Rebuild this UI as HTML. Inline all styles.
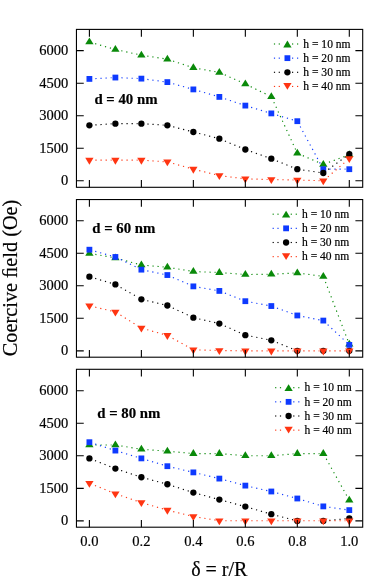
<!DOCTYPE html>
<html><head><meta charset="utf-8"><title>Coercive field</title>
<style>
html,body{margin:0;padding:0;background:#fff;}
body{width:382px;height:586px;position:relative;overflow:hidden;font-family:"Liberation Serif",serif;}
svg text{font-family:"Liberation Serif",serif;fill:#000;stroke:#000;stroke-width:0.2px;}
</style></head><body>
<svg width="382" height="586" viewBox="0 0 382 586" style="position:absolute;left:0;top:0;will-change:transform;opacity:0.999">
<line x1="95.16" y1="43.67" x2="111.74" y2="48.46" stroke="#0a8a0a" stroke-width="1.15" stroke-dasharray="1.2 3.9"/>
<line x1="121.25" y1="50.78" x2="137.67" y2="54.35" stroke="#0a8a0a" stroke-width="1.15" stroke-dasharray="1.2 3.9"/>
<line x1="147.31" y1="56.08" x2="163.61" y2="58.60" stroke="#0a8a0a" stroke-width="1.15" stroke-dasharray="1.2 3.9"/>
<line x1="173.07" y1="61.07" x2="189.75" y2="66.60" stroke="#0a8a0a" stroke-width="1.15" stroke-dasharray="1.2 3.9"/>
<line x1="199.27" y1="68.84" x2="215.61" y2="71.74" stroke="#0a8a0a" stroke-width="1.15" stroke-dasharray="1.2 3.9"/>
<line x1="224.83" y1="74.85" x2="241.87" y2="82.46" stroke="#0a8a0a" stroke-width="1.15" stroke-dasharray="1.2 3.9"/>
<line x1="250.73" y1="86.64" x2="267.92" y2="95.04" stroke="#0a8a0a" stroke-width="1.15" stroke-dasharray="1.2 3.9"/>
<line x1="273.83" y1="102.16" x2="295.73" y2="149.84" stroke="#0a8a0a" stroke-width="1.15" stroke-dasharray="1.2 3.9"/>
<line x1="302.84" y1="155.65" x2="319.82" y2="162.91" stroke="#0a8a0a" stroke-width="1.15" stroke-dasharray="1.2 3.9"/>
<line x1="328.93" y1="162.31" x2="345.74" y2="156.05" stroke="#0a8a0a" stroke-width="1.15" stroke-dasharray="1.2 3.9"/>
<path d="M85.25 44.31L93.55 44.31L89.40 37.51Z" fill="#0a8a0a"/>
<path d="M111.24 51.81L119.54 51.81L115.39 45.01Z" fill="#0a8a0a"/>
<path d="M137.23 57.46L145.53 57.46L141.38 50.66Z" fill="#0a8a0a"/>
<path d="M163.22 61.48L171.52 61.48L167.37 54.68Z" fill="#0a8a0a"/>
<path d="M189.21 70.09L197.51 70.09L193.36 63.29Z" fill="#0a8a0a"/>
<path d="M215.20 74.70L223.50 74.70L219.35 67.90Z" fill="#0a8a0a"/>
<path d="M241.19 86.31L249.49 86.31L245.34 79.51Z" fill="#0a8a0a"/>
<path d="M267.18 99.00L275.48 99.00L271.33 92.20Z" fill="#0a8a0a"/>
<path d="M293.17 155.59L301.47 155.59L297.32 148.79Z" fill="#0a8a0a"/>
<path d="M319.16 166.70L327.46 166.70L323.31 159.90Z" fill="#0a8a0a"/>
<path d="M345.15 157.03L353.45 157.03L349.30 150.23Z" fill="#0a8a0a"/>
<line x1="95.39" y1="78.59" x2="111.60" y2="77.74" stroke="#0e3aff" stroke-width="1.15" stroke-dasharray="1.2 3.9"/>
<line x1="121.38" y1="77.79" x2="137.58" y2="78.47" stroke="#0e3aff" stroke-width="1.15" stroke-dasharray="1.2 3.9"/>
<line x1="147.33" y1="79.42" x2="163.60" y2="81.60" stroke="#0e3aff" stroke-width="1.15" stroke-dasharray="1.2 3.9"/>
<line x1="173.15" y1="83.73" x2="189.70" y2="88.38" stroke="#0e3aff" stroke-width="1.15" stroke-dasharray="1.2 3.9"/>
<line x1="199.12" y1="91.07" x2="215.70" y2="95.86" stroke="#0e3aff" stroke-width="1.15" stroke-dasharray="1.2 3.9"/>
<line x1="225.04" y1="98.81" x2="241.74" y2="104.40" stroke="#0e3aff" stroke-width="1.15" stroke-dasharray="1.2 3.9"/>
<line x1="251.09" y1="107.33" x2="267.69" y2="112.32" stroke="#0e3aff" stroke-width="1.15" stroke-dasharray="1.2 3.9"/>
<line x1="277.08" y1="115.13" x2="293.68" y2="120.10" stroke="#0e3aff" stroke-width="1.15" stroke-dasharray="1.2 3.9"/>
<line x1="300.18" y1="126.47" x2="321.50" y2="165.85" stroke="#0e3aff" stroke-width="1.15" stroke-dasharray="1.2 3.9"/>
<line x1="329.31" y1="169.19" x2="345.50" y2="169.19" stroke="#0e3aff" stroke-width="1.15" stroke-dasharray="1.2 3.9"/>
<rect x="86.50" y="76.01" width="5.8" height="5.8" fill="#0e3aff"/>
<rect x="112.49" y="74.64" width="5.8" height="5.8" fill="#0e3aff"/>
<rect x="138.48" y="75.73" width="5.8" height="5.8" fill="#0e3aff"/>
<rect x="164.47" y="79.20" width="5.8" height="5.8" fill="#0e3aff"/>
<rect x="190.46" y="86.51" width="5.8" height="5.8" fill="#0e3aff"/>
<rect x="216.45" y="94.01" width="5.8" height="5.8" fill="#0e3aff"/>
<rect x="242.44" y="102.70" width="5.8" height="5.8" fill="#0e3aff"/>
<rect x="268.43" y="110.51" width="5.8" height="5.8" fill="#0e3aff"/>
<rect x="294.42" y="118.29" width="5.8" height="5.8" fill="#0e3aff"/>
<rect x="320.41" y="166.29" width="5.8" height="5.8" fill="#0e3aff"/>
<rect x="346.40" y="166.29" width="5.8" height="5.8" fill="#0e3aff"/>
<line x1="95.39" y1="124.91" x2="111.60" y2="123.87" stroke="#000000" stroke-width="1.15" stroke-dasharray="1.2 3.9"/>
<line x1="121.39" y1="123.63" x2="137.58" y2="123.63" stroke="#000000" stroke-width="1.15" stroke-dasharray="1.2 3.9"/>
<line x1="147.37" y1="124.01" x2="163.58" y2="125.06" stroke="#000000" stroke-width="1.15" stroke-dasharray="1.2 3.9"/>
<line x1="173.18" y1="126.80" x2="189.68" y2="131.05" stroke="#000000" stroke-width="1.15" stroke-dasharray="1.2 3.9"/>
<line x1="199.17" y1="133.49" x2="215.67" y2="137.74" stroke="#000000" stroke-width="1.15" stroke-dasharray="1.2 3.9"/>
<line x1="224.89" y1="140.99" x2="241.83" y2="148.04" stroke="#000000" stroke-width="1.15" stroke-dasharray="1.2 3.9"/>
<line x1="251.00" y1="151.50" x2="267.75" y2="157.42" stroke="#000000" stroke-width="1.15" stroke-dasharray="1.2 3.9"/>
<line x1="276.89" y1="160.94" x2="293.80" y2="167.77" stroke="#000000" stroke-width="1.15" stroke-dasharray="1.2 3.9"/>
<line x1="303.26" y1="170.06" x2="319.55" y2="172.45" stroke="#000000" stroke-width="1.15" stroke-dasharray="1.2 3.9"/>
<line x1="328.16" y1="169.47" x2="346.23" y2="156.34" stroke="#000000" stroke-width="1.15" stroke-dasharray="1.2 3.9"/>
<circle cx="89.40" cy="125.30" r="3.15" fill="#000000"/>
<circle cx="115.39" cy="123.63" r="3.15" fill="#000000"/>
<circle cx="141.38" cy="123.63" r="3.15" fill="#000000"/>
<circle cx="167.37" cy="125.30" r="3.15" fill="#000000"/>
<circle cx="193.36" cy="132.00" r="3.15" fill="#000000"/>
<circle cx="219.35" cy="138.69" r="3.15" fill="#000000"/>
<circle cx="245.34" cy="149.50" r="3.15" fill="#000000"/>
<circle cx="271.33" cy="158.69" r="3.15" fill="#000000"/>
<circle cx="297.32" cy="169.19" r="3.15" fill="#000000"/>
<circle cx="323.31" cy="173.00" r="3.15" fill="#000000"/>
<circle cx="349.30" cy="154.10" r="3.15" fill="#000000"/>
<line x1="95.40" y1="160.13" x2="111.59" y2="160.13" stroke="#ff3512" stroke-width="1.15" stroke-dasharray="1.2 3.9"/>
<line x1="121.39" y1="160.13" x2="137.58" y2="160.13" stroke="#ff3512" stroke-width="1.15" stroke-dasharray="1.2 3.9"/>
<line x1="147.37" y1="160.54" x2="163.58" y2="161.62" stroke="#ff3512" stroke-width="1.15" stroke-dasharray="1.2 3.9"/>
<line x1="173.15" y1="163.49" x2="189.70" y2="168.13" stroke="#ff3512" stroke-width="1.15" stroke-dasharray="1.2 3.9"/>
<line x1="199.19" y1="170.59" x2="215.66" y2="174.66" stroke="#ff3512" stroke-width="1.15" stroke-dasharray="1.2 3.9"/>
<line x1="225.30" y1="176.32" x2="241.57" y2="178.38" stroke="#ff3512" stroke-width="1.15" stroke-dasharray="1.2 3.9"/>
<line x1="251.34" y1="179.02" x2="267.53" y2="179.48" stroke="#ff3512" stroke-width="1.15" stroke-dasharray="1.2 3.9"/>
<line x1="277.33" y1="179.69" x2="293.52" y2="179.96" stroke="#ff3512" stroke-width="1.15" stroke-dasharray="1.2 3.9"/>
<line x1="303.32" y1="180.20" x2="319.51" y2="180.68" stroke="#ff3512" stroke-width="1.15" stroke-dasharray="1.2 3.9"/>
<line x1="327.87" y1="176.88" x2="346.42" y2="160.98" stroke="#ff3512" stroke-width="1.15" stroke-dasharray="1.2 3.9"/>
<path d="M85.25 157.83L93.55 157.83L89.40 164.63Z" fill="#ff3512"/>
<path d="M111.24 157.83L119.54 157.83L115.39 164.63Z" fill="#ff3512"/>
<path d="M137.23 157.83L145.53 157.83L141.38 164.63Z" fill="#ff3512"/>
<path d="M163.22 159.57L171.52 159.57L167.37 166.37Z" fill="#ff3512"/>
<path d="M189.21 166.86L197.51 166.86L193.36 173.66Z" fill="#ff3512"/>
<path d="M215.20 173.27L223.50 173.27L219.35 180.07Z" fill="#ff3512"/>
<path d="M241.19 176.55L249.49 176.55L245.34 183.35Z" fill="#ff3512"/>
<path d="M267.18 177.29L275.48 177.29L271.33 184.09Z" fill="#ff3512"/>
<path d="M293.17 177.73L301.47 177.73L297.32 184.53Z" fill="#ff3512"/>
<path d="M319.16 178.49L327.46 178.49L323.31 185.29Z" fill="#ff3512"/>
<path d="M345.15 156.20L353.45 156.20L349.30 163.00Z" fill="#ff3512"/>
<rect x="76.45" y="29.4" width="286.25" height="157.90" fill="none" stroke="#000" stroke-width="1.1"/>
<path d="M76.45 180.80h7.3M362.7 180.80h-7.3" stroke="#000" stroke-width="1.1"/>
<text x="68.3" y="185.30" text-anchor="end" font-size="14.5">0</text>
<path d="M76.45 148.26h7.3M362.7 148.26h-7.3" stroke="#000" stroke-width="1.1"/>
<text x="68.3" y="152.76" text-anchor="end" font-size="14.5">1500</text>
<path d="M76.45 115.72h7.3M362.7 115.72h-7.3" stroke="#000" stroke-width="1.1"/>
<text x="68.3" y="120.22" text-anchor="end" font-size="14.5">3000</text>
<path d="M76.45 83.19h7.3M362.7 83.19h-7.3" stroke="#000" stroke-width="1.1"/>
<text x="68.3" y="87.69" text-anchor="end" font-size="14.5">4500</text>
<path d="M76.45 50.65h7.3M362.7 50.65h-7.3" stroke="#000" stroke-width="1.1"/>
<text x="68.3" y="55.15" text-anchor="end" font-size="14.5">6000</text>
<path d="M89.40 29.4v7.3M89.40 187.3v-7.3" stroke="#000" stroke-width="1.1"/>
<path d="M141.38 29.4v7.3M141.38 187.3v-7.3" stroke="#000" stroke-width="1.1"/>
<path d="M193.36 29.4v7.3M193.36 187.3v-7.3" stroke="#000" stroke-width="1.1"/>
<path d="M245.34 29.4v7.3M245.34 187.3v-7.3" stroke="#000" stroke-width="1.1"/>
<path d="M297.32 29.4v7.3M297.32 187.3v-7.3" stroke="#000" stroke-width="1.1"/>
<path d="M349.30 29.4v7.3M349.30 187.3v-7.3" stroke="#000" stroke-width="1.1"/>
<text x="94.4" y="104.1" font-size="14.8" font-weight="bold" stroke-width="0.25">d = 40 nm</text>
<rect x="273.90" y="43.42" width="1.2" height="1.15" fill="#0a8a0a"/>
<rect x="278.70" y="43.42" width="1.2" height="1.15" fill="#0a8a0a"/>
<rect x="292.00" y="43.42" width="1.2" height="1.15" fill="#0a8a0a"/>
<rect x="297.00" y="43.42" width="1.2" height="1.15" fill="#0a8a0a"/>
<path d="M283.25 47.40L291.55 47.40L287.40 40.60Z" fill="#0a8a0a"/>
<text x="303.30" y="47.70" font-size="11.55">h = 10 nm</text>
<rect x="273.90" y="57.57" width="1.2" height="1.15" fill="#0e3aff"/>
<rect x="278.70" y="57.57" width="1.2" height="1.15" fill="#0e3aff"/>
<rect x="292.00" y="57.57" width="1.2" height="1.15" fill="#0e3aff"/>
<rect x="297.00" y="57.57" width="1.2" height="1.15" fill="#0e3aff"/>
<rect x="284.50" y="55.25" width="5.8" height="5.8" fill="#0e3aff"/>
<text x="303.30" y="61.85" font-size="11.55">h = 20 nm</text>
<rect x="273.90" y="71.72" width="1.2" height="1.15" fill="#000000"/>
<rect x="278.70" y="71.72" width="1.2" height="1.15" fill="#000000"/>
<rect x="292.00" y="71.72" width="1.2" height="1.15" fill="#000000"/>
<rect x="297.00" y="71.72" width="1.2" height="1.15" fill="#000000"/>
<circle cx="287.40" cy="72.30" r="3.15" fill="#000000"/>
<text x="303.30" y="76.00" font-size="11.55">h = 30 nm</text>
<rect x="273.90" y="85.87" width="1.2" height="1.15" fill="#ff3512"/>
<rect x="278.70" y="85.87" width="1.2" height="1.15" fill="#ff3512"/>
<rect x="292.00" y="85.87" width="1.2" height="1.15" fill="#ff3512"/>
<rect x="297.00" y="85.87" width="1.2" height="1.15" fill="#ff3512"/>
<path d="M283.25 83.05L291.55 83.05L287.40 89.85Z" fill="#ff3512"/>
<text x="303.30" y="90.15" font-size="11.55">h = 40 nm</text>
<line x1="95.31" y1="254.44" x2="111.64" y2="257.24" stroke="#0a8a0a" stroke-width="1.15" stroke-dasharray="1.2 3.9"/>
<line x1="121.17" y1="259.47" x2="137.72" y2="264.04" stroke="#0a8a0a" stroke-width="1.15" stroke-dasharray="1.2 3.9"/>
<line x1="147.36" y1="265.55" x2="163.58" y2="266.91" stroke="#0a8a0a" stroke-width="1.15" stroke-dasharray="1.2 3.9"/>
<line x1="173.29" y1="268.20" x2="189.61" y2="270.89" stroke="#0a8a0a" stroke-width="1.15" stroke-dasharray="1.2 3.9"/>
<line x1="199.35" y1="271.76" x2="215.55" y2="272.44" stroke="#0a8a0a" stroke-width="1.15" stroke-dasharray="1.2 3.9"/>
<line x1="225.33" y1="273.04" x2="241.55" y2="274.23" stroke="#0a8a0a" stroke-width="1.15" stroke-dasharray="1.2 3.9"/>
<line x1="251.34" y1="274.46" x2="267.53" y2="274.32" stroke="#0a8a0a" stroke-width="1.15" stroke-dasharray="1.2 3.9"/>
<line x1="277.32" y1="273.97" x2="293.53" y2="273.10" stroke="#0a8a0a" stroke-width="1.15" stroke-dasharray="1.2 3.9"/>
<line x1="303.27" y1="273.70" x2="319.54" y2="275.89" stroke="#0a8a0a" stroke-width="1.15" stroke-dasharray="1.2 3.9"/>
<line x1="325.46" y1="282.00" x2="347.94" y2="340.74" stroke="#0a8a0a" stroke-width="1.15" stroke-dasharray="1.2 3.9"/>
<path d="M85.25 255.72L93.55 255.72L89.40 248.92Z" fill="#0a8a0a"/>
<path d="M111.24 260.18L119.54 260.18L115.39 253.38Z" fill="#0a8a0a"/>
<path d="M137.23 267.35L145.53 267.35L141.38 260.55Z" fill="#0a8a0a"/>
<path d="M163.22 269.53L171.52 269.53L167.37 262.73Z" fill="#0a8a0a"/>
<path d="M189.21 273.81L197.51 273.81L193.36 267.01Z" fill="#0a8a0a"/>
<path d="M215.20 274.90L223.50 274.90L219.35 268.10Z" fill="#0a8a0a"/>
<path d="M241.19 276.81L249.49 276.81L245.34 270.01Z" fill="#0a8a0a"/>
<path d="M267.18 276.59L275.48 276.59L271.33 269.79Z" fill="#0a8a0a"/>
<path d="M293.17 275.20L301.47 275.20L297.32 268.40Z" fill="#0a8a0a"/>
<path d="M319.16 278.70L327.46 278.70L323.31 271.90Z" fill="#0a8a0a"/>
<path d="M345.15 346.59L353.45 346.59L349.30 339.79Z" fill="#0a8a0a"/>
<line x1="95.18" y1="251.33" x2="111.73" y2="255.95" stroke="#0e3aff" stroke-width="1.15" stroke-dasharray="1.2 3.9"/>
<line x1="120.78" y1="259.60" x2="137.96" y2="267.98" stroke="#0e3aff" stroke-width="1.15" stroke-dasharray="1.2 3.9"/>
<line x1="147.25" y1="270.87" x2="163.65" y2="274.27" stroke="#0e3aff" stroke-width="1.15" stroke-dasharray="1.2 3.9"/>
<line x1="172.87" y1="277.44" x2="189.88" y2="284.85" stroke="#0e3aff" stroke-width="1.15" stroke-dasharray="1.2 3.9"/>
<line x1="199.27" y1="287.40" x2="215.61" y2="290.27" stroke="#0e3aff" stroke-width="1.15" stroke-dasharray="1.2 3.9"/>
<line x1="224.93" y1="293.13" x2="241.81" y2="299.80" stroke="#0e3aff" stroke-width="1.15" stroke-dasharray="1.2 3.9"/>
<line x1="251.24" y1="302.29" x2="267.59" y2="305.34" stroke="#0e3aff" stroke-width="1.15" stroke-dasharray="1.2 3.9"/>
<line x1="276.97" y1="308.09" x2="293.75" y2="314.18" stroke="#0e3aff" stroke-width="1.15" stroke-dasharray="1.2 3.9"/>
<line x1="303.21" y1="316.63" x2="319.58" y2="319.85" stroke="#0e3aff" stroke-width="1.15" stroke-dasharray="1.2 3.9"/>
<line x1="327.69" y1="324.68" x2="346.52" y2="342.27" stroke="#0e3aff" stroke-width="1.15" stroke-dasharray="1.2 3.9"/>
<rect x="86.50" y="246.81" width="5.8" height="5.8" fill="#0e3aff"/>
<rect x="112.49" y="254.07" width="5.8" height="5.8" fill="#0e3aff"/>
<rect x="138.48" y="266.75" width="5.8" height="5.8" fill="#0e3aff"/>
<rect x="164.47" y="272.14" width="5.8" height="5.8" fill="#0e3aff"/>
<rect x="190.46" y="283.47" width="5.8" height="5.8" fill="#0e3aff"/>
<rect x="216.45" y="288.03" width="5.8" height="5.8" fill="#0e3aff"/>
<rect x="242.44" y="298.29" width="5.8" height="5.8" fill="#0e3aff"/>
<rect x="268.43" y="303.14" width="5.8" height="5.8" fill="#0e3aff"/>
<rect x="294.42" y="312.57" width="5.8" height="5.8" fill="#0e3aff"/>
<rect x="320.41" y="317.68" width="5.8" height="5.8" fill="#0e3aff"/>
<rect x="346.40" y="341.97" width="5.8" height="5.8" fill="#0e3aff"/>
<line x1="95.15" y1="278.39" x2="111.75" y2="283.36" stroke="#000000" stroke-width="1.15" stroke-dasharray="1.2 3.9"/>
<line x1="120.60" y1="287.43" x2="138.08" y2="297.42" stroke="#000000" stroke-width="1.15" stroke-dasharray="1.2 3.9"/>
<line x1="147.22" y1="300.69" x2="163.67" y2="304.61" stroke="#000000" stroke-width="1.15" stroke-dasharray="1.2 3.9"/>
<line x1="172.81" y1="308.03" x2="189.92" y2="316.02" stroke="#000000" stroke-width="1.15" stroke-dasharray="1.2 3.9"/>
<line x1="199.21" y1="318.96" x2="215.65" y2="322.71" stroke="#000000" stroke-width="1.15" stroke-dasharray="1.2 3.9"/>
<line x1="224.83" y1="326.00" x2="241.87" y2="333.60" stroke="#000000" stroke-width="1.15" stroke-dasharray="1.2 3.9"/>
<line x1="251.23" y1="336.31" x2="267.60" y2="339.54" stroke="#000000" stroke-width="1.15" stroke-dasharray="1.2 3.9"/>
<line x1="276.89" y1="342.53" x2="293.80" y2="349.37" stroke="#000000" stroke-width="1.15" stroke-dasharray="1.2 3.9"/>
<circle cx="89.40" cy="276.67" r="3.15" fill="#000000"/>
<circle cx="115.39" cy="284.45" r="3.15" fill="#000000"/>
<circle cx="141.38" cy="299.30" r="3.15" fill="#000000"/>
<circle cx="167.37" cy="305.50" r="3.15" fill="#000000"/>
<circle cx="193.36" cy="317.63" r="3.15" fill="#000000"/>
<circle cx="219.35" cy="323.56" r="3.15" fill="#000000"/>
<circle cx="245.34" cy="335.15" r="3.15" fill="#000000"/>
<circle cx="271.33" cy="340.28" r="3.15" fill="#000000"/>
<circle cx="297.32" cy="350.80" r="3.15" fill="#000000"/>
<circle cx="323.31" cy="350.80" r="3.15" fill="#000000"/>
<circle cx="349.30" cy="350.80" r="3.15" fill="#000000"/>
<line x1="95.24" y1="307.17" x2="111.69" y2="311.06" stroke="#ff3512" stroke-width="1.15" stroke-dasharray="1.2 3.9"/>
<line x1="120.48" y1="315.11" x2="138.15" y2="326.11" stroke="#ff3512" stroke-width="1.15" stroke-dasharray="1.2 3.9"/>
<line x1="147.16" y1="329.73" x2="163.71" y2="334.37" stroke="#ff3512" stroke-width="1.15" stroke-dasharray="1.2 3.9"/>
<line x1="172.61" y1="338.31" x2="190.04" y2="348.01" stroke="#ff3512" stroke-width="1.15" stroke-dasharray="1.2 3.9"/>
<line x1="199.36" y1="349.99" x2="215.55" y2="350.37" stroke="#ff3512" stroke-width="1.15" stroke-dasharray="1.2 3.9"/>
<line x1="225.35" y1="350.56" x2="241.54" y2="350.83" stroke="#ff3512" stroke-width="1.15" stroke-dasharray="1.2 3.9"/>
<line x1="251.34" y1="350.90" x2="267.53" y2="350.90" stroke="#ff3512" stroke-width="1.15" stroke-dasharray="1.2 3.9"/>
<line x1="277.33" y1="350.90" x2="293.52" y2="350.90" stroke="#ff3512" stroke-width="1.15" stroke-dasharray="1.2 3.9"/>
<line x1="303.32" y1="350.90" x2="319.51" y2="350.90" stroke="#ff3512" stroke-width="1.15" stroke-dasharray="1.2 3.9"/>
<line x1="329.31" y1="350.90" x2="345.50" y2="350.90" stroke="#ff3512" stroke-width="1.15" stroke-dasharray="1.2 3.9"/>
<path d="M85.25 303.49L93.55 303.49L89.40 310.29Z" fill="#ff3512"/>
<path d="M111.24 309.64L119.54 309.64L115.39 316.44Z" fill="#ff3512"/>
<path d="M137.23 325.81L145.53 325.81L141.38 332.61Z" fill="#ff3512"/>
<path d="M163.22 333.10L171.52 333.10L167.37 339.90Z" fill="#ff3512"/>
<path d="M189.21 347.55L197.51 347.55L193.36 354.35Z" fill="#ff3512"/>
<path d="M215.20 348.16L223.50 348.16L219.35 354.96Z" fill="#ff3512"/>
<path d="M241.19 348.60L249.49 348.60L245.34 355.40Z" fill="#ff3512"/>
<path d="M267.18 348.60L275.48 348.60L271.33 355.40Z" fill="#ff3512"/>
<path d="M293.17 348.60L301.47 348.60L297.32 355.40Z" fill="#ff3512"/>
<path d="M319.16 348.60L327.46 348.60L323.31 355.40Z" fill="#ff3512"/>
<path d="M345.15 348.60L353.45 348.60L349.30 355.40Z" fill="#ff3512"/>
<rect x="76.45" y="199.55" width="286.25" height="157.65" fill="none" stroke="#000" stroke-width="1.1"/>
<path d="M76.45 350.85h7.3M362.7 350.85h-7.3" stroke="#000" stroke-width="1.1"/>
<text x="68.3" y="355.35" text-anchor="end" font-size="14.5">0</text>
<path d="M76.45 318.31h7.3M362.7 318.31h-7.3" stroke="#000" stroke-width="1.1"/>
<text x="68.3" y="322.81" text-anchor="end" font-size="14.5">1500</text>
<path d="M76.45 285.77h7.3M362.7 285.77h-7.3" stroke="#000" stroke-width="1.1"/>
<text x="68.3" y="290.27" text-anchor="end" font-size="14.5">3000</text>
<path d="M76.45 253.24h7.3M362.7 253.24h-7.3" stroke="#000" stroke-width="1.1"/>
<text x="68.3" y="257.74" text-anchor="end" font-size="14.5">4500</text>
<path d="M76.45 220.70h7.3M362.7 220.70h-7.3" stroke="#000" stroke-width="1.1"/>
<text x="68.3" y="225.20" text-anchor="end" font-size="14.5">6000</text>
<path d="M89.40 199.55v7.3M89.40 357.2v-7.3" stroke="#000" stroke-width="1.1"/>
<path d="M141.38 199.55v7.3M141.38 357.2v-7.3" stroke="#000" stroke-width="1.1"/>
<path d="M193.36 199.55v7.3M193.36 357.2v-7.3" stroke="#000" stroke-width="1.1"/>
<path d="M245.34 199.55v7.3M245.34 357.2v-7.3" stroke="#000" stroke-width="1.1"/>
<path d="M297.32 199.55v7.3M297.32 357.2v-7.3" stroke="#000" stroke-width="1.1"/>
<path d="M349.30 199.55v7.3M349.30 357.2v-7.3" stroke="#000" stroke-width="1.1"/>
<text x="92.3" y="233.1" font-size="14.8" font-weight="bold" stroke-width="0.25">d = 60 nm</text>
<rect x="272.60" y="213.62" width="1.2" height="1.15" fill="#0a8a0a"/>
<rect x="277.40" y="213.62" width="1.2" height="1.15" fill="#0a8a0a"/>
<rect x="290.70" y="213.62" width="1.2" height="1.15" fill="#0a8a0a"/>
<rect x="295.70" y="213.62" width="1.2" height="1.15" fill="#0a8a0a"/>
<path d="M281.95 217.60L290.25 217.60L286.10 210.80Z" fill="#0a8a0a"/>
<text x="302.00" y="217.90" font-size="11.55">h = 10 nm</text>
<rect x="272.60" y="227.77" width="1.2" height="1.15" fill="#0e3aff"/>
<rect x="277.40" y="227.77" width="1.2" height="1.15" fill="#0e3aff"/>
<rect x="290.70" y="227.77" width="1.2" height="1.15" fill="#0e3aff"/>
<rect x="295.70" y="227.77" width="1.2" height="1.15" fill="#0e3aff"/>
<rect x="283.20" y="225.45" width="5.8" height="5.8" fill="#0e3aff"/>
<text x="302.00" y="232.05" font-size="11.55">h = 20 nm</text>
<rect x="272.60" y="241.92" width="1.2" height="1.15" fill="#000000"/>
<rect x="277.40" y="241.92" width="1.2" height="1.15" fill="#000000"/>
<rect x="290.70" y="241.92" width="1.2" height="1.15" fill="#000000"/>
<rect x="295.70" y="241.92" width="1.2" height="1.15" fill="#000000"/>
<circle cx="286.10" cy="242.50" r="3.15" fill="#000000"/>
<text x="302.00" y="246.20" font-size="11.55">h = 30 nm</text>
<rect x="272.60" y="256.07" width="1.2" height="1.15" fill="#ff3512"/>
<rect x="277.40" y="256.07" width="1.2" height="1.15" fill="#ff3512"/>
<rect x="290.70" y="256.07" width="1.2" height="1.15" fill="#ff3512"/>
<rect x="295.70" y="256.07" width="1.2" height="1.15" fill="#ff3512"/>
<path d="M281.95 253.25L290.25 253.25L286.10 260.05Z" fill="#ff3512"/>
<text x="302.00" y="260.35" font-size="11.55">h = 40 nm</text>
<line x1="95.40" y1="444.99" x2="111.59" y2="444.99" stroke="#0a8a0a" stroke-width="1.15" stroke-dasharray="1.2 3.9"/>
<line x1="121.31" y1="445.97" x2="137.63" y2="448.66" stroke="#0a8a0a" stroke-width="1.15" stroke-dasharray="1.2 3.9"/>
<line x1="147.36" y1="449.71" x2="163.58" y2="450.89" stroke="#0a8a0a" stroke-width="1.15" stroke-dasharray="1.2 3.9"/>
<line x1="173.34" y1="451.72" x2="189.58" y2="453.23" stroke="#0a8a0a" stroke-width="1.15" stroke-dasharray="1.2 3.9"/>
<line x1="199.36" y1="453.58" x2="215.55" y2="453.58" stroke="#0a8a0a" stroke-width="1.15" stroke-dasharray="1.2 3.9"/>
<line x1="225.33" y1="454.08" x2="241.55" y2="455.45" stroke="#0a8a0a" stroke-width="1.15" stroke-dasharray="1.2 3.9"/>
<line x1="251.34" y1="455.77" x2="267.53" y2="455.77" stroke="#0a8a0a" stroke-width="1.15" stroke-dasharray="1.2 3.9"/>
<line x1="277.31" y1="455.27" x2="293.53" y2="453.90" stroke="#0a8a0a" stroke-width="1.15" stroke-dasharray="1.2 3.9"/>
<line x1="303.32" y1="453.58" x2="319.51" y2="453.58" stroke="#0a8a0a" stroke-width="1.15" stroke-dasharray="1.2 3.9"/>
<line x1="326.23" y1="458.82" x2="347.45" y2="496.95" stroke="#0a8a0a" stroke-width="1.15" stroke-dasharray="1.2 3.9"/>
<path d="M85.25 447.29L93.55 447.29L89.40 440.49Z" fill="#0a8a0a"/>
<path d="M111.24 447.29L119.54 447.29L115.39 440.49Z" fill="#0a8a0a"/>
<path d="M137.23 451.57L145.53 451.57L141.38 444.77Z" fill="#0a8a0a"/>
<path d="M163.22 453.47L171.52 453.47L167.37 446.67Z" fill="#0a8a0a"/>
<path d="M189.21 455.88L197.51 455.88L193.36 449.08Z" fill="#0a8a0a"/>
<path d="M215.20 455.88L223.50 455.88L219.35 449.08Z" fill="#0a8a0a"/>
<path d="M241.19 458.07L249.49 458.07L245.34 451.27Z" fill="#0a8a0a"/>
<path d="M267.18 458.07L275.48 458.07L271.33 451.27Z" fill="#0a8a0a"/>
<path d="M293.17 455.88L301.47 455.88L297.32 449.08Z" fill="#0a8a0a"/>
<path d="M319.16 455.88L327.46 455.88L323.31 449.08Z" fill="#0a8a0a"/>
<path d="M345.15 502.57L353.45 502.57L349.30 495.77Z" fill="#0a8a0a"/>
<line x1="95.11" y1="444.03" x2="111.77" y2="449.40" stroke="#0e3aff" stroke-width="1.15" stroke-dasharray="1.2 3.9"/>
<line x1="121.14" y1="452.30" x2="137.74" y2="457.30" stroke="#0e3aff" stroke-width="1.15" stroke-dasharray="1.2 3.9"/>
<line x1="147.13" y1="460.12" x2="163.73" y2="465.10" stroke="#0e3aff" stroke-width="1.15" stroke-dasharray="1.2 3.9"/>
<line x1="173.21" y1="467.59" x2="189.66" y2="471.51" stroke="#0e3aff" stroke-width="1.15" stroke-dasharray="1.2 3.9"/>
<line x1="199.20" y1="473.78" x2="215.65" y2="477.71" stroke="#0e3aff" stroke-width="1.15" stroke-dasharray="1.2 3.9"/>
<line x1="225.14" y1="480.15" x2="241.67" y2="484.62" stroke="#0e3aff" stroke-width="1.15" stroke-dasharray="1.2 3.9"/>
<line x1="251.19" y1="486.94" x2="267.62" y2="490.66" stroke="#0e3aff" stroke-width="1.15" stroke-dasharray="1.2 3.9"/>
<line x1="277.12" y1="493.06" x2="293.65" y2="497.51" stroke="#0e3aff" stroke-width="1.15" stroke-dasharray="1.2 3.9"/>
<line x1="303.06" y1="500.24" x2="319.67" y2="505.29" stroke="#0e3aff" stroke-width="1.15" stroke-dasharray="1.2 3.9"/>
<line x1="329.25" y1="507.24" x2="345.54" y2="509.57" stroke="#0e3aff" stroke-width="1.15" stroke-dasharray="1.2 3.9"/>
<rect x="86.50" y="439.30" width="5.8" height="5.8" fill="#0e3aff"/>
<rect x="112.49" y="447.67" width="5.8" height="5.8" fill="#0e3aff"/>
<rect x="138.48" y="455.49" width="5.8" height="5.8" fill="#0e3aff"/>
<rect x="164.47" y="463.30" width="5.8" height="5.8" fill="#0e3aff"/>
<rect x="190.46" y="469.49" width="5.8" height="5.8" fill="#0e3aff"/>
<rect x="216.45" y="475.69" width="5.8" height="5.8" fill="#0e3aff"/>
<rect x="242.44" y="482.71" width="5.8" height="5.8" fill="#0e3aff"/>
<rect x="268.43" y="488.60" width="5.8" height="5.8" fill="#0e3aff"/>
<rect x="294.42" y="495.60" width="5.8" height="5.8" fill="#0e3aff"/>
<rect x="320.41" y="503.49" width="5.8" height="5.8" fill="#0e3aff"/>
<rect x="346.40" y="507.21" width="5.8" height="5.8" fill="#0e3aff"/>
<line x1="94.98" y1="460.59" x2="111.85" y2="467.22" stroke="#000000" stroke-width="1.15" stroke-dasharray="1.2 3.9"/>
<line x1="121.08" y1="470.50" x2="137.77" y2="476.04" stroke="#000000" stroke-width="1.15" stroke-dasharray="1.2 3.9"/>
<line x1="147.17" y1="478.80" x2="163.70" y2="483.27" stroke="#000000" stroke-width="1.15" stroke-dasharray="1.2 3.9"/>
<line x1="173.08" y1="486.10" x2="189.74" y2="491.45" stroke="#000000" stroke-width="1.15" stroke-dasharray="1.2 3.9"/>
<line x1="199.15" y1="494.17" x2="215.68" y2="498.62" stroke="#000000" stroke-width="1.15" stroke-dasharray="1.2 3.9"/>
<line x1="225.14" y1="501.17" x2="241.67" y2="505.62" stroke="#000000" stroke-width="1.15" stroke-dasharray="1.2 3.9"/>
<line x1="251.10" y1="508.29" x2="267.68" y2="513.13" stroke="#000000" stroke-width="1.15" stroke-dasharray="1.2 3.9"/>
<line x1="277.14" y1="515.69" x2="293.64" y2="519.94" stroke="#000000" stroke-width="1.15" stroke-dasharray="1.2 3.9"/>
<line x1="329.28" y1="520.33" x2="345.52" y2="518.81" stroke="#000000" stroke-width="1.15" stroke-dasharray="1.2 3.9"/>
<circle cx="89.40" cy="458.39" r="3.15" fill="#000000"/>
<circle cx="115.39" cy="468.61" r="3.15" fill="#000000"/>
<circle cx="141.38" cy="477.24" r="3.15" fill="#000000"/>
<circle cx="167.37" cy="484.26" r="3.15" fill="#000000"/>
<circle cx="193.36" cy="492.61" r="3.15" fill="#000000"/>
<circle cx="219.35" cy="499.61" r="3.15" fill="#000000"/>
<circle cx="245.34" cy="506.61" r="3.15" fill="#000000"/>
<circle cx="271.33" cy="514.20" r="3.15" fill="#000000"/>
<circle cx="297.32" cy="520.89" r="3.15" fill="#000000"/>
<circle cx="323.31" cy="520.89" r="3.15" fill="#000000"/>
<circle cx="349.30" cy="518.46" r="3.15" fill="#000000"/>
<line x1="94.96" y1="485.47" x2="111.87" y2="492.30" stroke="#ff3512" stroke-width="1.15" stroke-dasharray="1.2 3.9"/>
<line x1="121.07" y1="495.67" x2="137.78" y2="501.39" stroke="#ff3512" stroke-width="1.15" stroke-dasharray="1.2 3.9"/>
<line x1="147.14" y1="504.29" x2="163.72" y2="509.10" stroke="#ff3512" stroke-width="1.15" stroke-dasharray="1.2 3.9"/>
<line x1="173.20" y1="511.58" x2="189.67" y2="515.59" stroke="#ff3512" stroke-width="1.15" stroke-dasharray="1.2 3.9"/>
<line x1="199.28" y1="517.45" x2="215.60" y2="520.11" stroke="#ff3512" stroke-width="1.15" stroke-dasharray="1.2 3.9"/>
<line x1="225.35" y1="520.73" x2="241.54" y2="520.73" stroke="#ff3512" stroke-width="1.15" stroke-dasharray="1.2 3.9"/>
<line x1="251.34" y1="520.73" x2="267.53" y2="520.73" stroke="#ff3512" stroke-width="1.15" stroke-dasharray="1.2 3.9"/>
<line x1="277.33" y1="520.73" x2="293.52" y2="520.73" stroke="#ff3512" stroke-width="1.15" stroke-dasharray="1.2 3.9"/>
<line x1="303.32" y1="520.73" x2="319.51" y2="520.73" stroke="#ff3512" stroke-width="1.15" stroke-dasharray="1.2 3.9"/>
<line x1="329.31" y1="520.73" x2="345.50" y2="520.73" stroke="#ff3512" stroke-width="1.15" stroke-dasharray="1.2 3.9"/>
<path d="M85.25 480.93L93.55 480.93L89.40 487.73Z" fill="#ff3512"/>
<path d="M111.24 491.43L119.54 491.43L115.39 498.23Z" fill="#ff3512"/>
<path d="M137.23 500.32L145.53 500.32L141.38 507.12Z" fill="#ff3512"/>
<path d="M163.22 507.86L171.52 507.86L167.37 514.66Z" fill="#ff3512"/>
<path d="M189.21 514.19L197.51 514.19L193.36 520.99Z" fill="#ff3512"/>
<path d="M215.20 518.43L223.50 518.43L219.35 525.23Z" fill="#ff3512"/>
<path d="M241.19 518.43L249.49 518.43L245.34 525.23Z" fill="#ff3512"/>
<path d="M267.18 518.43L275.48 518.43L271.33 525.23Z" fill="#ff3512"/>
<path d="M293.17 518.43L301.47 518.43L297.32 525.23Z" fill="#ff3512"/>
<path d="M319.16 518.43L327.46 518.43L323.31 525.23Z" fill="#ff3512"/>
<path d="M345.15 518.43L353.45 518.43L349.30 525.23Z" fill="#ff3512"/>
<rect x="76.45" y="369.3" width="286.25" height="157.90" fill="none" stroke="#000" stroke-width="1.1"/>
<path d="M76.45 520.90h7.3M362.7 520.90h-7.3" stroke="#000" stroke-width="1.1"/>
<text x="68.3" y="525.40" text-anchor="end" font-size="14.5">0</text>
<path d="M76.45 488.36h7.3M362.7 488.36h-7.3" stroke="#000" stroke-width="1.1"/>
<text x="68.3" y="492.86" text-anchor="end" font-size="14.5">1500</text>
<path d="M76.45 455.82h7.3M362.7 455.82h-7.3" stroke="#000" stroke-width="1.1"/>
<text x="68.3" y="460.32" text-anchor="end" font-size="14.5">3000</text>
<path d="M76.45 423.29h7.3M362.7 423.29h-7.3" stroke="#000" stroke-width="1.1"/>
<text x="68.3" y="427.79" text-anchor="end" font-size="14.5">4500</text>
<path d="M76.45 390.75h7.3M362.7 390.75h-7.3" stroke="#000" stroke-width="1.1"/>
<text x="68.3" y="395.25" text-anchor="end" font-size="14.5">6000</text>
<path d="M89.40 369.3v7.3M89.40 527.2v-7.3" stroke="#000" stroke-width="1.1"/>
<path d="M141.38 369.3v7.3M141.38 527.2v-7.3" stroke="#000" stroke-width="1.1"/>
<path d="M193.36 369.3v7.3M193.36 527.2v-7.3" stroke="#000" stroke-width="1.1"/>
<path d="M245.34 369.3v7.3M245.34 527.2v-7.3" stroke="#000" stroke-width="1.1"/>
<path d="M297.32 369.3v7.3M297.32 527.2v-7.3" stroke="#000" stroke-width="1.1"/>
<path d="M349.30 369.3v7.3M349.30 527.2v-7.3" stroke="#000" stroke-width="1.1"/>
<text x="97.3" y="418.3" font-size="14.8" font-weight="bold" stroke-width="0.25">d = 80 nm</text>
<rect x="275.10" y="387.12" width="1.2" height="1.15" fill="#0a8a0a"/>
<rect x="279.90" y="387.12" width="1.2" height="1.15" fill="#0a8a0a"/>
<rect x="293.20" y="387.12" width="1.2" height="1.15" fill="#0a8a0a"/>
<rect x="298.20" y="387.12" width="1.2" height="1.15" fill="#0a8a0a"/>
<path d="M284.45 391.10L292.75 391.10L288.60 384.30Z" fill="#0a8a0a"/>
<text x="304.50" y="391.40" font-size="11.55">h = 10 nm</text>
<rect x="275.10" y="401.27" width="1.2" height="1.15" fill="#0e3aff"/>
<rect x="279.90" y="401.27" width="1.2" height="1.15" fill="#0e3aff"/>
<rect x="293.20" y="401.27" width="1.2" height="1.15" fill="#0e3aff"/>
<rect x="298.20" y="401.27" width="1.2" height="1.15" fill="#0e3aff"/>
<rect x="285.70" y="398.95" width="5.8" height="5.8" fill="#0e3aff"/>
<text x="304.50" y="405.55" font-size="11.55">h = 20 nm</text>
<rect x="275.10" y="415.42" width="1.2" height="1.15" fill="#000000"/>
<rect x="279.90" y="415.42" width="1.2" height="1.15" fill="#000000"/>
<rect x="293.20" y="415.42" width="1.2" height="1.15" fill="#000000"/>
<rect x="298.20" y="415.42" width="1.2" height="1.15" fill="#000000"/>
<circle cx="288.60" cy="416.00" r="3.15" fill="#000000"/>
<text x="304.50" y="419.70" font-size="11.55">h = 30 nm</text>
<rect x="275.10" y="429.57" width="1.2" height="1.15" fill="#ff3512"/>
<rect x="279.90" y="429.57" width="1.2" height="1.15" fill="#ff3512"/>
<rect x="293.20" y="429.57" width="1.2" height="1.15" fill="#ff3512"/>
<rect x="298.20" y="429.57" width="1.2" height="1.15" fill="#ff3512"/>
<path d="M284.45 426.75L292.75 426.75L288.60 433.55Z" fill="#ff3512"/>
<text x="304.50" y="433.85" font-size="11.55">h = 40 nm</text>
<text x="89.40" y="545.7" text-anchor="middle" font-size="14.6">0.0</text>
<text x="141.38" y="545.7" text-anchor="middle" font-size="14.6">0.2</text>
<text x="193.36" y="545.7" text-anchor="middle" font-size="14.6">0.4</text>
<text x="245.34" y="545.7" text-anchor="middle" font-size="14.6">0.6</text>
<text x="297.32" y="545.7" text-anchor="middle" font-size="14.6">0.8</text>
<text x="349.30" y="545.7" text-anchor="middle" font-size="14.6">1.0</text>
<text x="219.3" y="575.6" text-anchor="middle" font-size="20">δ = r/R</text>
<text transform="translate(16.7 277.9) rotate(-90)" text-anchor="middle" font-size="20.3">Coercive ﬁeld (Oe)</text>
</svg>
</body></html>
